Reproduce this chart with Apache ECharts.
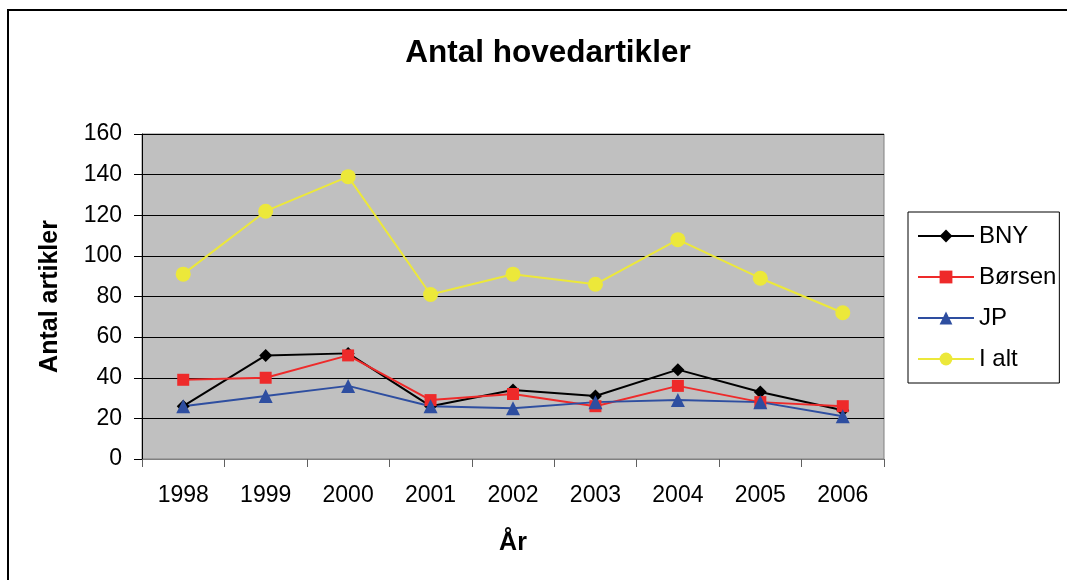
<!DOCTYPE html>
<html>
<head>
<meta charset="utf-8">
<script src="https://cdn.jsdelivr.net/npm/echarts@6/dist/echarts.min.js"></script>
<style>
  html, body { margin: 0; padding: 0; background: #fff; }
  #chart { width: 1067px; height: 580px; }
</style>
</head>
<body>
<div id="chart"></div>
<script>
// data
const years = ['1998', '1999', '2000', '2001', '2002', '2003', '2004', '2005', '2006']
const bny = [26, 51, 52, 26, 34, 31, 44, 33, 24]
const borsen = [39, 40, 51, 29, 32, 26, 36, 28, 26]
const jp = [26, 31, 36, 26, 25, 28, 29, 28, 21]
const iAlt = [91, 122, 139, 81, 91, 86, 108, 89, 72]

const font = '"Liberation Sans", Arial, sans-serif'

const chart = echarts.init(document.getElementById('chart'))

const mkSeries = (name, data, color, symbol, size) => ({
  name,
  type: 'line',
  data,
  symbol,
  symbolSize: size,
  lineStyle: { color, width: 2 },
  itemStyle: { color },
  emphasis: { disabled: true },
  z: 3
})

chart.setOption({
  animation: false,
  textStyle: { fontFamily: font },
  graphic: [{
    type: 'rect',
    shape: { x: 8, y: 10, width: 1100, height: 620 },
    style: { fill: 'none', stroke: '#000', lineWidth: 2 },
    silent: true,
    z: -1
  }],
  title: {
    text: 'Antal hovedartikler',
    left: 543,
    top: 32,
    textAlign: 'center',
    textStyle: { fontFamily: font, fontSize: 31.5, fontWeight: 'bold', color: '#000' }
  },
  legend: {
    orient: 'vertical',
    left: 908,
    top: 212,
    padding: [12, 3, 12, 9],
    itemGap: 17,
    itemWidth: 56,
    itemHeight: 16,
    borderColor: '#000',
    borderWidth: 1,
    backgroundColor: '#fff',
    textStyle: { fontFamily: font, fontSize: 24, color: '#000' },
    data: ['BNY', 'Børsen', 'JP', 'I alt']
  },
  grid: {
    left: 142,
    right: 183,
    top: 134,
    bottom: 121,
    show: true,
    backgroundColor: '#c0c0c0',
    borderColor: '#808080',
    borderWidth: 1
  },
  xAxis: {
    type: 'category',
    data: years,
    boundaryGap: true,
    name: 'År',
    nameLocation: 'middle',
    nameGap: 72,
    nameTextStyle: { fontFamily: font, fontSize: 25, fontWeight: 'bold', color: '#000' },
    axisLine: { lineStyle: { color: '#808080', width: 1 } },
    axisTick: { show: true, length: 8, lineStyle: { color: '#606060' } },
    axisLabel: { fontFamily: font, fontSize: 23, color: '#000', margin: 25 }
  },
  yAxis: {
    type: 'value',
    min: 0,
    max: 160,
    interval: 20,
    name: 'Antal artikler',
    nameLocation: 'middle',
    nameGap: 79,
    nameRotate: 90,
    nameTextStyle: { fontFamily: font, fontSize: 25, fontWeight: 'bold', color: '#000' },
    axisLine: { show: true, lineStyle: { color: '#000', width: 1 } },
    axisTick: { show: true, length: 8, lineStyle: { color: '#000' } },
    axisLabel: { fontFamily: font, fontSize: 23, color: '#000', margin: 20 },
    splitLine: { lineStyle: { color: '#000', width: 1 } }
  },
  series: [
    mkSeries('BNY', bny, '#000000', 'diamond', 13),
    mkSeries('Børsen', borsen, '#ee2a2a', 'rect', 12),
    mkSeries('JP', jp, '#2e4ea0', 'triangle', 14),
    mkSeries('I alt', iAlt, '#ece83a', 'circle', 15)
  ]
})
</script>
</body>
</html>
